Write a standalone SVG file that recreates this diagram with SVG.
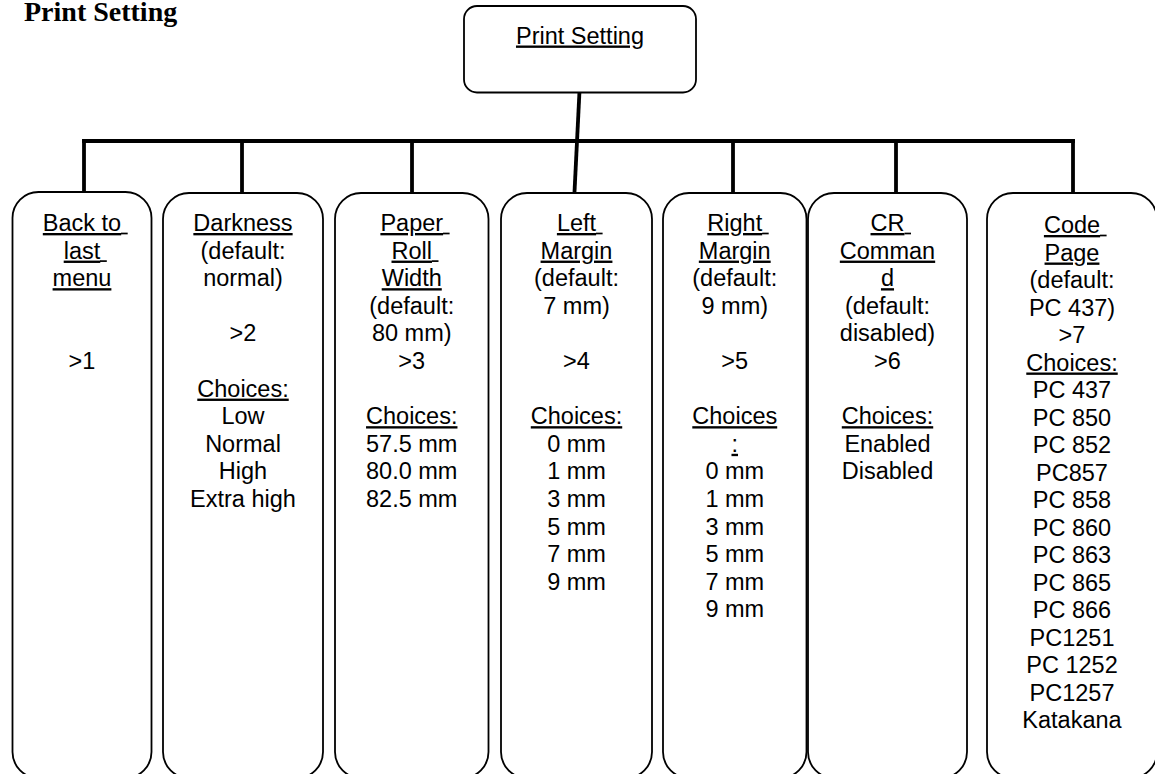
<svg xmlns="http://www.w3.org/2000/svg" width="1155" height="774" viewBox="0 0 1155 774">
<style>
.box{fill:#fff;stroke:#000;stroke-width:1.8}
.con{stroke:#000;stroke-width:3.8;fill:none;stroke-linecap:square}
text{font-family:"Liberation Sans",Arial,sans-serif;font-size:23.5px;fill:#000;text-anchor:middle}
.u{text-decoration:underline}
.ul{stroke:#000;stroke-width:1.7}
.title{font-family:"Liberation Serif","Times New Roman",serif;font-weight:bold;font-size:28px;text-anchor:start}
</style>
<rect width="1155" height="774" fill="#fff"/>
<text class="title" x="24" y="20.5">Print Setting</text>
<g id="connectors">
<line class="con" x1="84" y1="141" x2="1073" y2="141"/>
<line class="con" x1="579.5" y1="91" x2="574.5" y2="192"/>
<line class="con" x1="84" y1="141" x2="84" y2="191"/>
<line class="con" x1="242" y1="141" x2="242" y2="192"/>
<line class="con" x1="412" y1="141" x2="412" y2="192"/>
<line class="con" x1="733" y1="141" x2="733" y2="192"/>
<line class="con" x1="896" y1="141" x2="896" y2="192"/>
<line class="con" x1="1073" y1="141" x2="1073" y2="192"/>
</g>
<g id="root">
<rect class="box" x="464" y="6" width="232" height="86.5" rx="13"/>
<text class="u" x="580" y="43.5">Print Setting</text>
</g>
<g id="n1">
<rect class="box" x="12.5" y="192" width="139" height="586" rx="26"/>
<text class="u" x="82" y="231">Back to</text><line class="ul" x1="121" y1="233.5" x2="127.7" y2="233.5"/>
<text class="u" x="82" y="258.6">last</text><line class="ul" x1="100" y1="261.1" x2="106.8" y2="261.1"/>
<text class="u" x="82" y="286.2">menu</text>
<text x="82" y="369">&gt;1</text>
</g>
<g id="n2">
<rect class="box" x="163" y="193" width="160" height="585" rx="26"/>
<text class="u" x="243" y="231">Darkness</text>
<text x="243" y="258.6">(default:</text>
<text x="243" y="286.2">normal)</text>
<text x="243" y="341.4">&gt;2</text>
<text class="u" x="243" y="396.6">Choices:</text>
<text x="243" y="424.2">Low</text>
<text x="243" y="451.8">Normal</text>
<text x="243" y="479.4">High</text>
<text x="243" y="507">Extra high</text>
</g>
<g id="n3">
<rect class="box" x="335" y="193" width="153.5" height="585" rx="26"/>
<text class="u" x="411.75" y="231">Paper</text><line class="ul" x1="443" y1="233.5" x2="449.6" y2="233.5"/>
<text class="u" x="411.75" y="258.6">Roll</text><line class="ul" x1="432" y1="261.1" x2="438.5" y2="261.1"/>
<text class="u" x="411.75" y="286.2">Width</text>
<text x="411.75" y="313.8">(default:</text>
<text x="411.75" y="341.4">80 mm)</text>
<text x="411.75" y="369">&gt;3</text>
<text class="u" x="411.75" y="424.2">Choices:</text>
<text x="411.75" y="451.8">57.5 mm</text>
<text x="411.75" y="479.4">80.0 mm</text>
<text x="411.75" y="507">82.5 mm</text>
</g>
<g id="n4">
<rect class="box" x="501" y="193" width="151" height="585" rx="26"/>
<text class="u" x="576.5" y="231">Left</text><line class="ul" x1="596" y1="233.5" x2="602.6" y2="233.5"/>
<text class="u" x="576.5" y="258.6">Margin</text>
<text x="576.5" y="286.2">(default:</text>
<text x="576.5" y="313.8">7 mm)</text>
<text x="576.5" y="369">&gt;4</text>
<text class="u" x="576.5" y="424.2">Choices:</text>
<text x="576.5" y="451.8">0 mm</text>
<text x="576.5" y="479.4">1 mm</text>
<text x="576.5" y="507">3 mm</text>
<text x="576.5" y="534.6">5 mm</text>
<text x="576.5" y="562.2">7 mm</text>
<text x="576.5" y="589.8">9 mm</text>
</g>
<g id="n5">
<rect class="box" x="663" y="193" width="143.5" height="585" rx="26"/>
<text class="u" x="734.75" y="231">Right</text><line class="ul" x1="762" y1="233.5" x2="768.7" y2="233.5"/>
<text class="u" x="734.75" y="258.6">Margin</text>
<text x="734.75" y="286.2">(default:</text>
<text x="734.75" y="313.8">9 mm)</text>
<text x="734.75" y="369">&gt;5</text>
<text class="u" x="734.75" y="424.2">Choices</text>
<text class="u" x="734.75" y="451.8">:</text>
<text x="734.75" y="479.4">0 mm</text>
<text x="734.75" y="507">1 mm</text>
<text x="734.75" y="534.6">3 mm</text>
<text x="734.75" y="562.2">5 mm</text>
<text x="734.75" y="589.8">7 mm</text>
<text x="734.75" y="617.4">9 mm</text>
</g>
<g id="n6">
<rect class="box" x="808" y="193" width="159" height="585" rx="26"/>
<text class="u" x="887.5" y="231">CR</text><line class="ul" x1="904.5" y1="233.5" x2="911" y2="233.5"/>
<text class="u" x="887.5" y="258.6">Comman</text>
<text class="u" x="887.5" y="286.2">d</text>
<text x="887.5" y="313.8">(default:</text>
<text x="887.5" y="341.4">disabled)</text>
<text x="887.5" y="369">&gt;6</text>
<text class="u" x="887.5" y="424.2">Choices:</text>
<text x="887.5" y="451.8">Enabled</text>
<text x="887.5" y="479.4">Disabled</text>
</g>
<g id="n7">
<rect class="box" x="987" y="193" width="170" height="585" rx="26"/>
<text class="u" x="1072" y="233">Code</text><line class="ul" x1="1100" y1="235.5" x2="1106.6" y2="235.5"/>
<text class="u" x="1072" y="260.5">Page</text>
<text x="1072" y="288">(default:</text>
<text x="1072" y="315.5">PC 437)</text>
<text x="1072" y="343">&gt;7</text>
<text class="u" x="1072" y="370.5">Choices:</text>
<text x="1072" y="398">PC 437</text>
<text x="1072" y="425.5">PC 850</text>
<text x="1072" y="453">PC 852</text>
<text x="1072" y="480.5">PC857</text>
<text x="1072" y="508">PC 858</text>
<text x="1072" y="535.5">PC 860</text>
<text x="1072" y="563">PC 863</text>
<text x="1072" y="590.5">PC 865</text>
<text x="1072" y="618">PC 866</text>
<text x="1072" y="645.5">PC1251</text>
<text x="1072" y="673">PC 1252</text>
<text x="1072" y="700.5">PC1257</text>
<text x="1072" y="728">Katakana</text>
</g>
</svg>
